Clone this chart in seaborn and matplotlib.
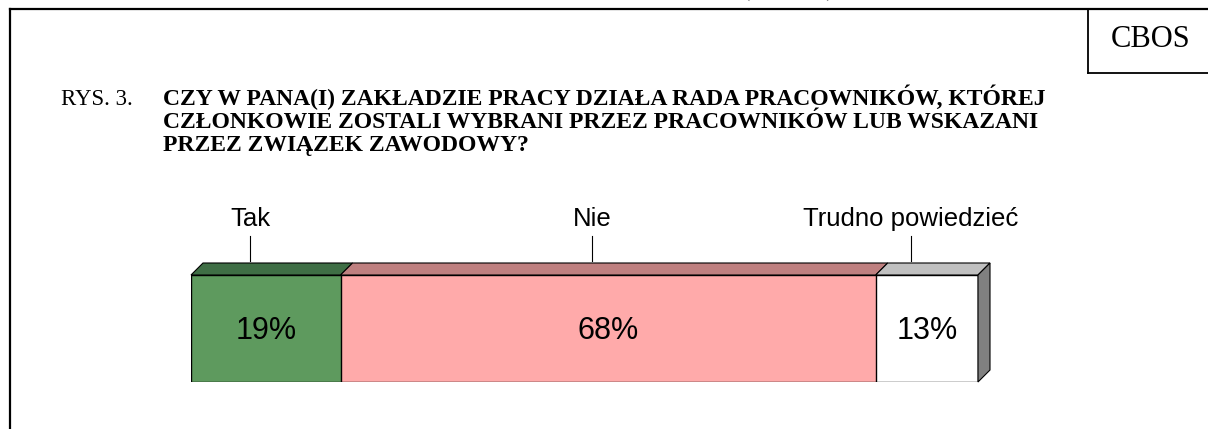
import pandas as pd
import matplotlib.pyplot as plt
import seaborn as sns
from matplotlib.patches import Polygon
from matplotlib.transforms import blended_transform_factory

# dane z wykresu
kategorie = ["Tak", "Nie", "Trudno powiedzieć"]
wartosci = [19, 68, 13]
kolory_przod = ["#5E9A5E", "#FFAAAA", "#FFFFFF"]
kolory_gora = ["#3F6E45", "#BF8080", "#C0C0C0"]
kolor_bok = "#808080"

tytul = ["CZY W PANA(I) ZAKŁADZIE PRACY DZIAŁA RADA PRACOWNIKÓW, KTÓREJ",
         "CZŁONKOWIE ZOSTALI WYBRANI PRZEZ PRACOWNIKÓW LUB WSKAZANI",
         "PRZEZ ZWIĄZEK ZAWODOWY?"]

W, H = 1208, 429
fig = plt.figure(figsize=(W / 100, H / 100), dpi=100)

# tło w pikselach: ramka, CBOS, tytuł
bg = fig.add_axes([0, 0, 1, 1])
bg.set_xlim(0, W)
bg.set_ylim(H, 0)
bg.axis("off")
bg.plot([10, 10], [9, H + 5], color="black", lw=1.6, solid_capstyle="projecting")
bg.plot([10, W + 5], [9, 9], color="black", lw=1.6, solid_capstyle="projecting")
bg.plot([1088, 1088], [9, 73], color="black", lw=1.3)
bg.plot([1088, W + 5], [73, 73], color="black", lw=1.3)
bg.text(1151, 47, "CBOS", fontsize=22, family="Liberation Serif", ha="center", va="baseline")
bg.text(788, -2, "(dokończenie)", fontsize=11, family="Liberation Serif", ha="center",
        va="baseline", color="#555555", clip_on=True)
bg.text(61, 105, "RYS. 3.", fontsize=16.5, family="Liberation Serif", ha="left", va="baseline")
for n, linia in enumerate(tytul):
    bg.text(163, 105 + 23 * n, linia, fontsize=17, family="Liberation Serif",
            weight="bold", ha="left", va="baseline")

# wykres słupkowy skumulowany
ax = fig.add_axes([191 / W, 47 / H, 787 / W, 107 / H])
df = pd.DataFrame({"kategoria": kategorie, "wartosc": wartosci})
df["koniec"] = df["wartosc"].cumsum()
df["poczatek"] = df["koniec"] - df["wartosc"]
df["wiersz"] = "odp"

for i in reversed(range(len(df))):
    sns.barplot(data=df.iloc[[i]], x="koniec", y="wiersz", orient="h", color=kolory_przod[i],
                saturation=1, width=1, edgecolor="black", linewidth=1, ax=ax)

ax.set_xlim(0, 100)
ax.set_ylim(0.5, -0.5)
ax.axis("off")

d = 12  # głębokość efektu 3D w pikselach


def przesun(x, y):
    X, Y = ax.transData.transform((x, y))
    return ax.transData.inverted().transform((X + d, Y + d))


for i, r in df.iterrows():
    l, p = r["poczatek"], r["koniec"]
    gora = [(l, -0.5), (p, -0.5), tuple(przesun(p, -0.5)), tuple(przesun(l, -0.5))]
    ax.add_patch(Polygon(gora, closed=True, facecolor=kolory_gora[i], edgecolor="black",
                         lw=0.8, clip_on=False))
    ax.text((l + p) / 2, 0.02, f"{r['wartosc']}%", fontsize=22, family="Liberation Sans",
            ha="center", va="center")

bok = [(100, -0.5), tuple(przesun(100, -0.5)), tuple(przesun(100, 0.5)), (100, 0.5)]
ax.add_patch(Polygon(bok, closed=True, facecolor=kolor_bok, edgecolor="black", lw=0.8,
                     clip_on=False))

# etykiety kategorii z kreskami
tr = blended_transform_factory(ax.transData, bg.transData)
for i, r in df.iterrows():
    xc = (r["poczatek"] + r["koniec"]) / 2 - 2
    bg.plot([xc, xc], [236, 261], color="black", lw=0.8, transform=tr)
    bg.text(xc, 226, r["kategoria"], fontsize=18.5, family="Liberation Sans",
            ha="center", va="baseline", transform=tr)

fig.savefig("out.png", dpi=100)
